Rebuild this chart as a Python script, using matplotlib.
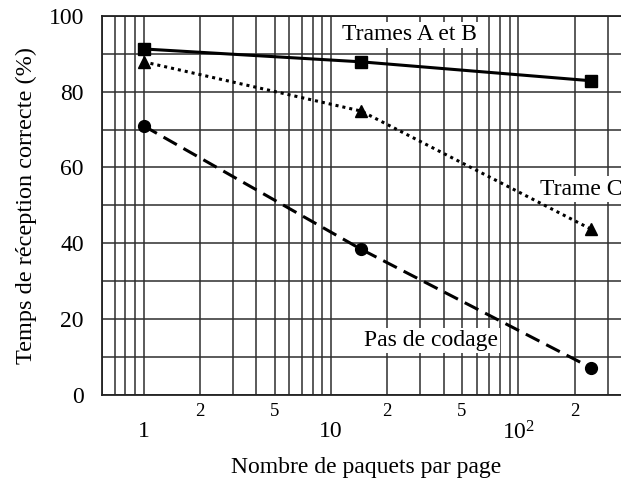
import matplotlib
matplotlib.use("Agg")
import matplotlib.pyplot as plt
from matplotlib.ticker import FixedLocator, FixedFormatter, NullFormatter

plt.rcParams['font.family'] = ['Liberation Serif', 'DejaVu Serif']
plt.rcParams['mathtext.fontset'] = 'custom'
plt.rcParams['mathtext.rm'] = 'Liberation Serif'
plt.rcParams['mathtext.it'] = 'Liberation Serif:italic'

# data
packets = [1, 14.5, 245]
trames_ab = [91.3, 87.9, 82.9]
trame_c = [87.9, 74.9, 43.7]
pas_codage = [71.0, 38.4, 7.1]

major_ticks = [1, 10, 100]
major_labels = ['1', '10', '10$^2$']
minor_ticks = [0.6, 0.7, 0.8, 0.9, 2, 3, 4, 5, 6, 7, 8, 9,
               20, 30, 40, 50, 60, 70, 80, 90, 200, 300, 400]
minor_labels = ['', '', '', '', '2', '', '', '5', '', '', '', '',
                '2', '', '', '5', '', '', '', '', '2', '', '']
y_ticks = [0, 20, 40, 60, 80, 100]

fig = plt.figure(figsize=(6.21, 4.88), dpi=100)
ax = fig.add_axes([0.1643, 0.1912, 1.0161 - 0.1643, 0.9672 - 0.1912])
ax.set_xscale('log')
ax.set_xlim(0.6, 400)
ax.set_ylim(0, 100)

gc = '#2e2e2e'
ax.xaxis.set_major_locator(FixedLocator(major_ticks))
ax.xaxis.set_major_formatter(FixedFormatter(major_labels))
ax.xaxis.set_minor_locator(FixedLocator(minor_ticks))
ax.xaxis.set_minor_formatter(FixedFormatter(minor_labels))
ax.set_yticks(y_ticks)
ax.yaxis.set_minor_locator(FixedLocator(list(range(10, 100, 20))))
ax.yaxis.set_minor_formatter(NullFormatter())

ax.tick_params(axis='x', which='major', length=0, pad=19, labelsize=17)
ax.tick_params(axis='x', which='minor', length=0, pad=6, labelsize=13.5)
ax.tick_params(axis='y', which='both', length=0, pad=13, labelsize=17)

ax.grid(True, which='both', axis='both', color=gc, linewidth=1.1)
ax.set_axisbelow(True)
for s in ax.spines.values():
    s.set_color('#222222')
    s.set_linewidth(1.3)

ax.plot(packets, trames_ab, color='black', linestyle='-', linewidth=2.2,
        marker='s', markersize=8, zorder=5)
ax.plot(packets, trame_c, color='black', linestyle=(0, (1, 1.3)), linewidth=2.2,
        marker='^', markersize=8, zorder=5)
ax.plot(packets, pas_codage, color='black', linestyle=(0, (5, 2.5)), linewidth=2.2,
        marker='o', markersize=8.5, zorder=5)

bb = dict(facecolor='white', edgecolor='none', pad=1.5)
ax.text(11.45, 95.0, 'Trames A et B', fontsize=17, va='center', ha='left', bbox=bb, zorder=4)
ax.text(130.7, 54.3, 'Trame C', fontsize=17, va='center', ha='left', bbox=bb, zorder=4)
ax.text(14.98, 14.4, 'Pas de codage', fontsize=17, va='center', ha='left', bbox=bb, zorder=4)

ax.set_ylabel('Temps de réception correcte (%)', fontsize=17.5, labelpad=8)
ax.set_xlabel('Nombre de paquets par page', fontsize=17, labelpad=9)

fig.savefig('out.png', dpi=100)
